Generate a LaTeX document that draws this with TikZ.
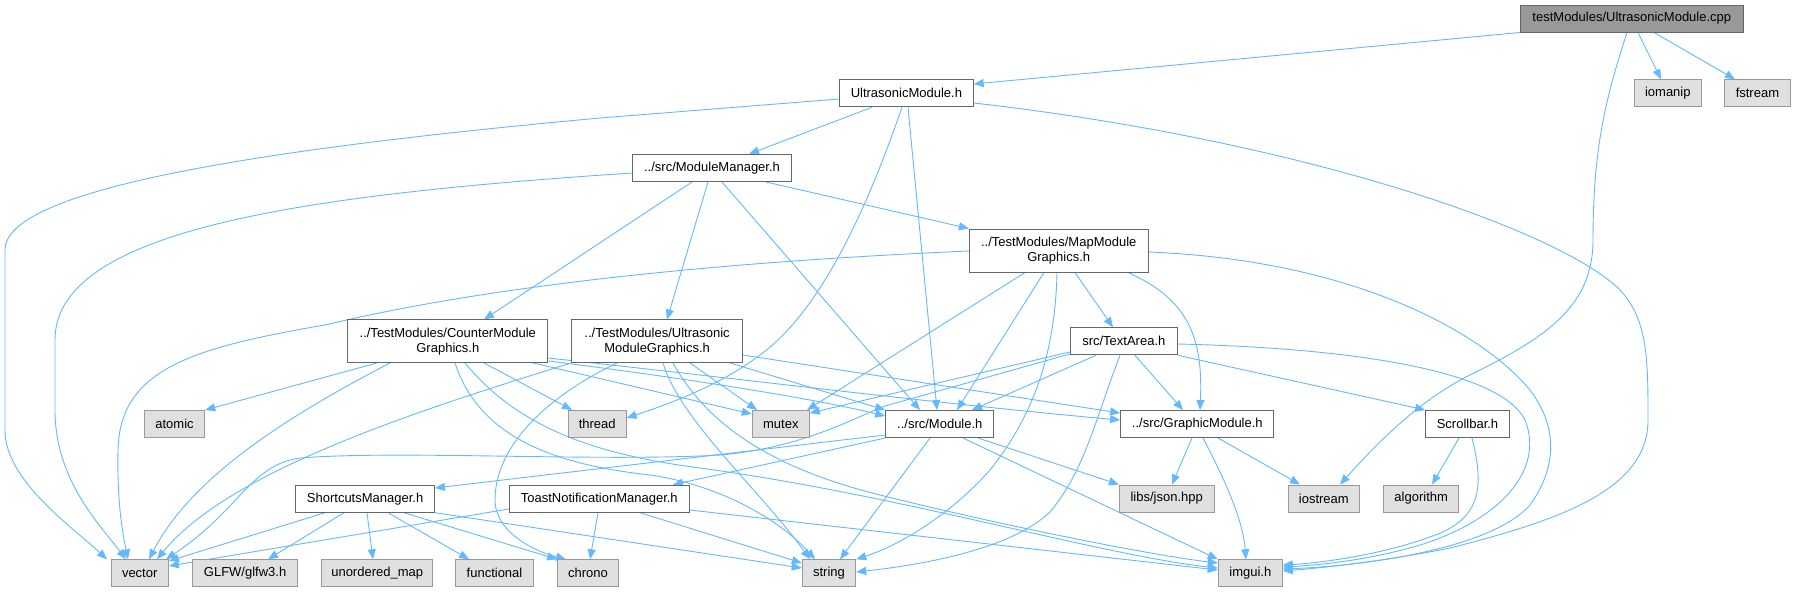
\documentclass[tikz,border=0pt]{standalone}
\usepackage{fontspec}
\setmainfont{Liberation Sans}
\usetikzlibrary{arrows.meta,backgrounds}
\definecolor{edgeblue}{HTML}{63B8FF}
\definecolor{boxborder}{HTML}{666666}
\definecolor{extfill}{HTML}{E0E0E0}
\definecolor{extborder}{HTML}{999999}
\definecolor{rootfill}{HTML}{999999}
\tikzset{
  dep/.style={draw=edgeblue, line width=0.9pt, -{Triangle[length=10pt,width=8pt]}},
  filebox/.style={draw=boxborder, fill=white, line width=1pt, inner sep=0pt, minimum height=27pt,
    font=\fontsize{13}{15}\selectfont, text=black, align=center},
  extbox/.style={filebox, draw=extborder, fill=extfill},
  rootbox/.style={filebox, draw=boxborder, fill=rootfill},
}
\begin{document}
\begin{tikzpicture}[x=1pt,y=-1pt]
\useasboundingbox (0,0) rectangle (1795,592);
% nodes
\node[rootbox, minimum width=223pt] (cpp) at (1631.8,18.5) {testModules/UltrasonicModule.cpp};
\node[filebox, minimum width=133.5pt] (um) at (906.4,93.3) {UltrasonicModule.h};
\node[extbox, minimum width=67pt] (iomanip) at (1667.8,93.3) {iomanip};
\node[extbox, minimum width=66pt] (fstream) at (1757.4,93.3) {fstream};
\node[filebox, minimum width=159pt] (mm) at (712,168) {../src/ModuleManager.h};
\node[filebox, minimum width=178.7pt, minimum height=43pt] (map) at (1058.7,250.5) {../TestModules/MapModule\\Graphics.h};
\node[filebox, minimum width=200pt, minimum height=42.5pt] (counter) at (447.8,341.2) {../TestModules/CounterModule\\Graphics.h};
\node[filebox, minimum width=170.6pt, minimum height=42.5pt] (umg) at (657.1,341.2) {../TestModules/Ultrasonic\\ModuleGraphics.h};
\node[filebox, minimum width=107pt] (textarea) at (1123.8,341.3) {src/TextArea.h};
\node[extbox, minimum width=60.4pt] (atomic) at (174.5,424) {atomic};
\node[extbox, minimum width=57.7pt] (thread) at (597.2,424) {thread};
\node[extbox, minimum width=57pt] (mutex) at (780.8,424) {mutex};
\node[filebox, minimum width=108.3pt] (module) at (939.8,424) {../src/Module.h};
\node[filebox, minimum width=153.3pt] (graphic) at (1197.3,424) {../src/GraphicModule.h};
\node[filebox, minimum width=83.6pt] (scrollbar) at (1467.5,424) {Scrollbar.h};
\node[filebox, minimum width=138.6pt] (shortcuts) at (365.1,498.7) {ShortcutsManager.h};
\node[filebox, minimum width=180pt] (toast) at (599.3,498.7) {ToastNotificationManager.h};
\node[extbox, minimum width=94.7pt] (json) at (1166.7,498.5) {libs/json.hpp};
\node[extbox, minimum width=71pt] (iostream) at (1323.8,498.5) {iostream};
\node[extbox, minimum width=75pt] (algorithm) at (1421.2,498.5) {algorithm};
\node[extbox, minimum width=57.4pt] (vector) at (139.7,573.3) {vector};
\node[extbox, minimum width=105.2pt] (glfw) at (245.1,573.3) {GLFW/glfw3.h};
\node[extbox, minimum width=110.6pt] (umap) at (377.2,573.3) {unordered\_map};
\node[extbox, minimum width=78.1pt] (functional) at (494.5,573.3) {functional};
\node[extbox, minimum width=60.7pt] (chrono) at (588,573.3) {chrono};
\node[extbox, minimum width=53.4pt] (string) at (829,573.3) {string};
\node[extbox, minimum width=64pt] (imgui) at (1250.3,573.3) {imgui.h};
\begin{pgfonlayer}{background}
% cpp
\draw[dep] (cpp.south west) -- (um.east |- 0,84);
\draw[dep] (cpp.south -| 1638,0) -- (iomanip.north -| 1661,0);
\draw[dep] (cpp.south -| 1654,0) -- (fstream.north -| 1735,0);
\draw[dep] (cpp.south -| 1627,0) .. controls (1605,100) and (1593,150) .. (1593,240)
  .. controls (1593,310) and (1540,340) .. (1470,375) .. controls (1420,400) and (1380,440) .. (iostream.north -| 1340,0);
% UltrasonicModule.h
\draw[dep] (um.south -| 872,0) -- (mm.north -| 749,0);
\draw[dep] (um.west |- 0,99) -- (600,118) .. controls (250,150) and (5,190) .. (5,250) -- (5,430)
  .. controls (5,480) and (70,525) .. (vector.north -| 107,0);
\draw[dep] (um.south -| 902,0) .. controls (870,200) and (830,290) .. (778,340)
  .. controls (740,375) and (690,397) .. (thread.east |- 0,418);
\draw[dep] (um.south -| 908,0) -- (module.north -| 937,0);
\draw[dep] (um.east |- 0,103) .. controls (1300,140) and (1560,230) .. (1620,290)
  .. controls (1648,320) and (1648,360) .. (1648,420) .. controls (1648,490) and (1560,520) .. (1450,548)
  .. controls (1380,562) and (1320,568) .. (imgui.east |- 0,571);
% ModuleManager
\draw[dep] (mm.west |- 0,173) .. controls (300,195) and (55,230) .. (55,340) -- (55,410)
  .. controls (55,480) and (100,525) .. (vector.north -| 126,0);
\draw[dep] (mm.south -| 692,0) -- (counter.north -| 484,0);
\draw[dep] (mm.south -| 708,0) -- (umg.north -| 667,0);
\draw[dep] (mm.south -| 722,0) -- (module.north -| 920,0);
\draw[dep] (mm.south -| 766,0) -- (map.north west);
% MapModuleGraphics
\draw[dep] (map.west |- 0,251) .. controls (650,265) and (450,295) .. (325,325)
  .. controls (190,348) and (120,370) .. (118,450) .. controls (117,500) and (122,530) .. (vector.north -| 128,0);
\draw[dep] (map.south -| 1025,0) -- (mutex.north -| 807,0);
\draw[dep] (map.south -| 1044,0) -- (module.north -| 957,0);
\draw[dep] (map.south -| 1057,0) .. controls (1055,360) and (1030,420) .. (990,470)
  .. controls (950,515) and (900,545) .. (string.north east);
\draw[dep] (map.south -| 1075,0) -- (textarea.north -| 1113,0);
\draw[dep] (map.south -| 1128,0) .. controls (1190,300) and (1203,340) .. (graphic.north -| 1200,0);
\draw[dep] (map.east |- 0,252) .. controls (1350,260) and (1480,330) .. (1530,390)
  .. controls (1560,430) and (1555,470) .. (1530,505) .. controls (1490,550) and (1360,566) .. (imgui.east |- 0,569);
% CounterModuleGraphics
\draw[dep] (counter.south -| 377,0) -- (atomic.north east);
\draw[dep] (counter.south -| 390,0) .. controls (280,420) and (190,480) .. (vector.north -| 149,0);
\draw[dep] (counter.south -| 484,0) -- (thread.north -| 572,0);
\draw[dep] (counter.south -| 533,0) -- (mutex.west |- 0,414);
\draw[dep] (counter.east |- 0,361) .. controls (700,380) and (820,400) .. (module.west |- 0,416);
\draw[dep] (counter.east |- 0,358) .. controls (750,380) and (950,405) .. (graphic.west |- 0,420);
\draw[dep] (counter.south -| 455,0) .. controls (480,440) and (560,465) .. (650,475)
  .. controls (720,485) and (780,520) .. (string.north -| 815,0);
\draw[dep] (counter.south -| 465,0) .. controls (520,430) and (600,455) .. (700,468)
  .. controls (900,495) and (1100,555) .. (imgui.west |- 0,568);
% UltrasonicModuleGraphics
\draw[dep] (umg.south west) .. controls (420,410) and (230,470) .. (vector.north -| 157,0);
\draw[dep] (umg.south -| 617,0) .. controls (540,400) and (495,450) .. (495,500)
  .. controls (495,530) and (530,550) .. (chrono.north -| 566,0);
\draw[dep] (umg.south -| 690,0) -- (mutex.north -| 757,0);
\draw[dep] (umg.south -| 730,0) -- (module.north west);
\draw[dep] (umg.east |- 0,355) -- (graphic.west |- 0,413);
\draw[dep] (umg.south -| 663,0) .. controls (680,420) and (760,490) .. (string.north -| 810,0);
\draw[dep] (umg.south -| 673,0) .. controls (710,430) and (780,470) .. (880,495)
  .. controls (1000,525) and (1150,555) .. (imgui.west |- 0,563);
% TextArea
\draw[dep] (textarea.west |- 0,354) -- (885,406) .. controls (850,420) and (800,448) .. (720,455)
  .. controls (600,462) and (400,450) .. (300,458) .. controls (250,465) and (240,510) .. (vector.north -| 166,0);
\draw[dep] (textarea.west |- 0,352) -- (mutex.east |- 0,413);
\draw[dep] (textarea.south -| 1096,0) -- (module.north -| 972,0);
\draw[dep] (textarea.south -| 1120,0) .. controls (1095,420) and (1085,470) .. (1050,512)
  .. controls (1010,550) and (920,565) .. (string.east |- 0,572);
\draw[dep] (textarea.south -| 1135,0) -- (graphic.north -| 1183,0);
\draw[dep] (textarea.south east) -- (scrollbar.north west);
\draw[dep] (textarea.east |- 0,344) .. controls (1350,348) and (1500,370) .. (1525,420)
  .. controls (1545,470) and (1500,520) .. (1420,545) .. controls (1370,560) and (1320,565) .. (imgui.east |- 0,567);
% GraphicModule
\draw[dep] (graphic.south -| 1218,0) -- (iostream.north -| 1300,0);
\draw[dep] (graphic.south -| 1192,0) -- (json.north -| 1172,0);
\draw[dep] (graphic.south -| 1203,0) .. controls (1225,480) and (1243,520) .. (imgui.north -| 1246,0);
% Scrollbar
\draw[dep] (scrollbar.south -| 1459,0) -- (algorithm.north -| 1432,0);
\draw[dep] (scrollbar.south -| 1472,0) .. controls (1485,490) and (1480,520) .. (1430,537)
  .. controls (1380,555) and (1320,563) .. (imgui.east |- 0,565);
% Module
\draw[dep] (module.west |- 0,435) -- (shortcuts.east |- 0,488);
\draw[dep] (module.south west) -- (toast.north -| 673,0);
\draw[dep] (module.south -| 930,0) -- (string.north -| 840,0);
\draw[dep] (module.south -| 978,0) -- (json.north west);
\draw[dep] (module.south -| 963,0) -- (imgui.north west);
% ShortcutsManager
\draw[dep] (shortcuts.south -| 325,0) -- (vector.east |- 0,561);
\draw[dep] (shortcuts.south -| 344,0) -- (glfw.north -| 268,0);
\draw[dep] (shortcuts.south -| 367,0) -- (umap.north -| 373,0);
\draw[dep] (shortcuts.south -| 388,0) -- (functional.north -| 469,0);
\draw[dep] (shortcuts.south -| 404,0) -- (chrono.north west);
\draw[dep] (shortcuts.south east) -- (string.west |- 0,568);
% Toast
\draw[dep] (toast.west |- 0,509) -- (vector.east |- 0,566);
\draw[dep] (toast.south -| 598,0) -- (chrono.north -| 590,0);
\draw[dep] (toast.south -| 640,0) -- (string.west |- 0,563);
\draw[dep] (toast.east |- 0,510) -- (imgui.west |- 0,570);
\end{pgfonlayer}
\end{tikzpicture}
\end{document}
